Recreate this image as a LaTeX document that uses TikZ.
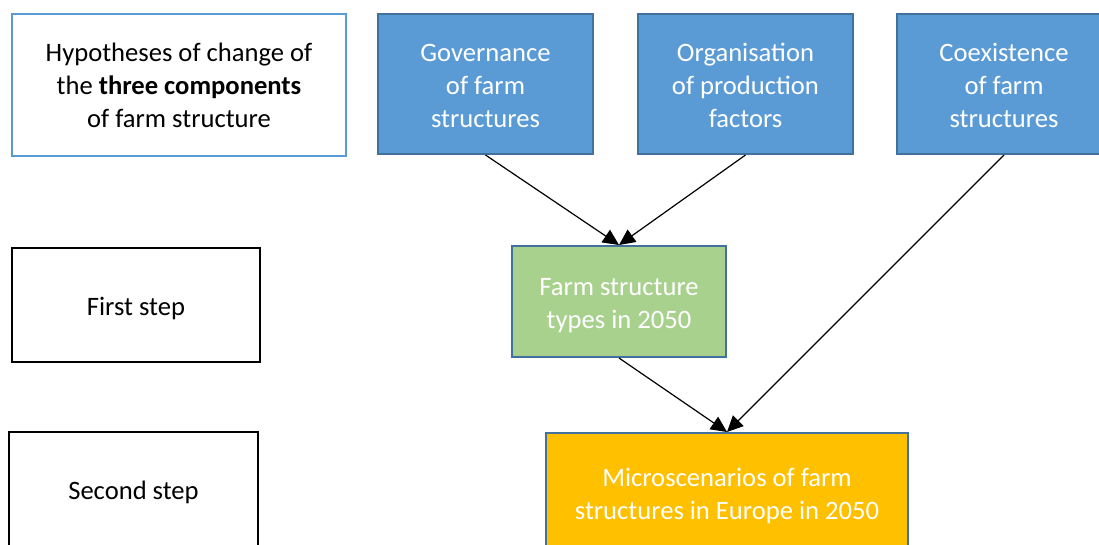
\documentclass[tikz,border=0pt]{standalone}
\usepackage{fontspec}
\setmainfont{Carlito}
\usetikzlibrary{arrows.meta}
\definecolor{lblue}{HTML}{5B9BD5}
\definecolor{dblue}{HTML}{41719C}
\definecolor{lgreen}{HTML}{A9D18E}
\definecolor{gold}{HTML}{FFC000}
\newcommand{\mlines}[2]{\raisebox{-#1}[\height][\depth]{\begin{tabular}{@{}c@{}}#2\end{tabular}}}
\tikzset{
  box/.style={rectangle, inner sep=0pt, line width=2pt, align=center,
    font=\fontsize{26.6}{33}\selectfont},
  plainbox/.style={box, draw=black, fill=white, text=black},
  hypbox/.style={box, draw=lblue, fill=white, text=black},
  bluebox/.style={box, draw=dblue, fill=lblue, text=white},
  greenbox/.style={box, draw=dblue, fill=lgreen, text=white},
  goldbox/.style={box, draw=dblue, fill=gold, text=white},
  arr/.style={line width=1.2pt, -{Triangle[length=16pt,width=15pt]}}
}
\begin{document}
\begin{tikzpicture}[x=1pt,y=-1pt]
\useasboundingbox (0,0) rectangle (1099,545);
\clip (0,0) rectangle (1099,545);
\node[hypbox, minimum width=334pt, minimum height=142pt] (hyp) at (179,85)
  {Hypotheses of change of\\the \textbf{three components}\\of farm structure};
\node[bluebox, minimum width=215pt, minimum height=140pt] (gov) at (485.5,84)
  {\mlines{4pt}{Governance\\of farm\\structures}};
\node[bluebox, minimum width=215pt, minimum height=140pt] (org) at (745.5,84)
  {\mlines{4pt}{Organisation\\of production\\factors}};
\node[bluebox, minimum width=214pt, minimum height=140pt] (coe) at (1004,84)
  {\mlines{4pt}{Coexistence\\of farm\\structures}};
\node[plainbox, minimum width=248pt, minimum height=114pt] (first) at (136,305)
  {\mlines{4pt}{First step}};
\node[greenbox, minimum width=214pt, minimum height=111pt] (types) at (619,301.5)
  {\mlines{3.5pt}{Farm structure\\types in 2050}};
\node[plainbox, minimum width=249pt, minimum height=118pt] (second) at (133.5,491)
  {\mlines{2pt}{Second step}};
\node[goldbox, minimum width=362pt, minimum height=120pt] (micro) at (727,493)
  {\mlines{3pt}{Microscenarios of farm\\structures in Europe in 2050}};
\draw[arr] (gov.south) -- (types.north);
\draw[arr] (org.south) -- (types.north);
\draw[arr] (types.south) -- (micro.north);
\draw[arr] (coe.south) -- (micro.north);
\end{tikzpicture}
\end{document}
